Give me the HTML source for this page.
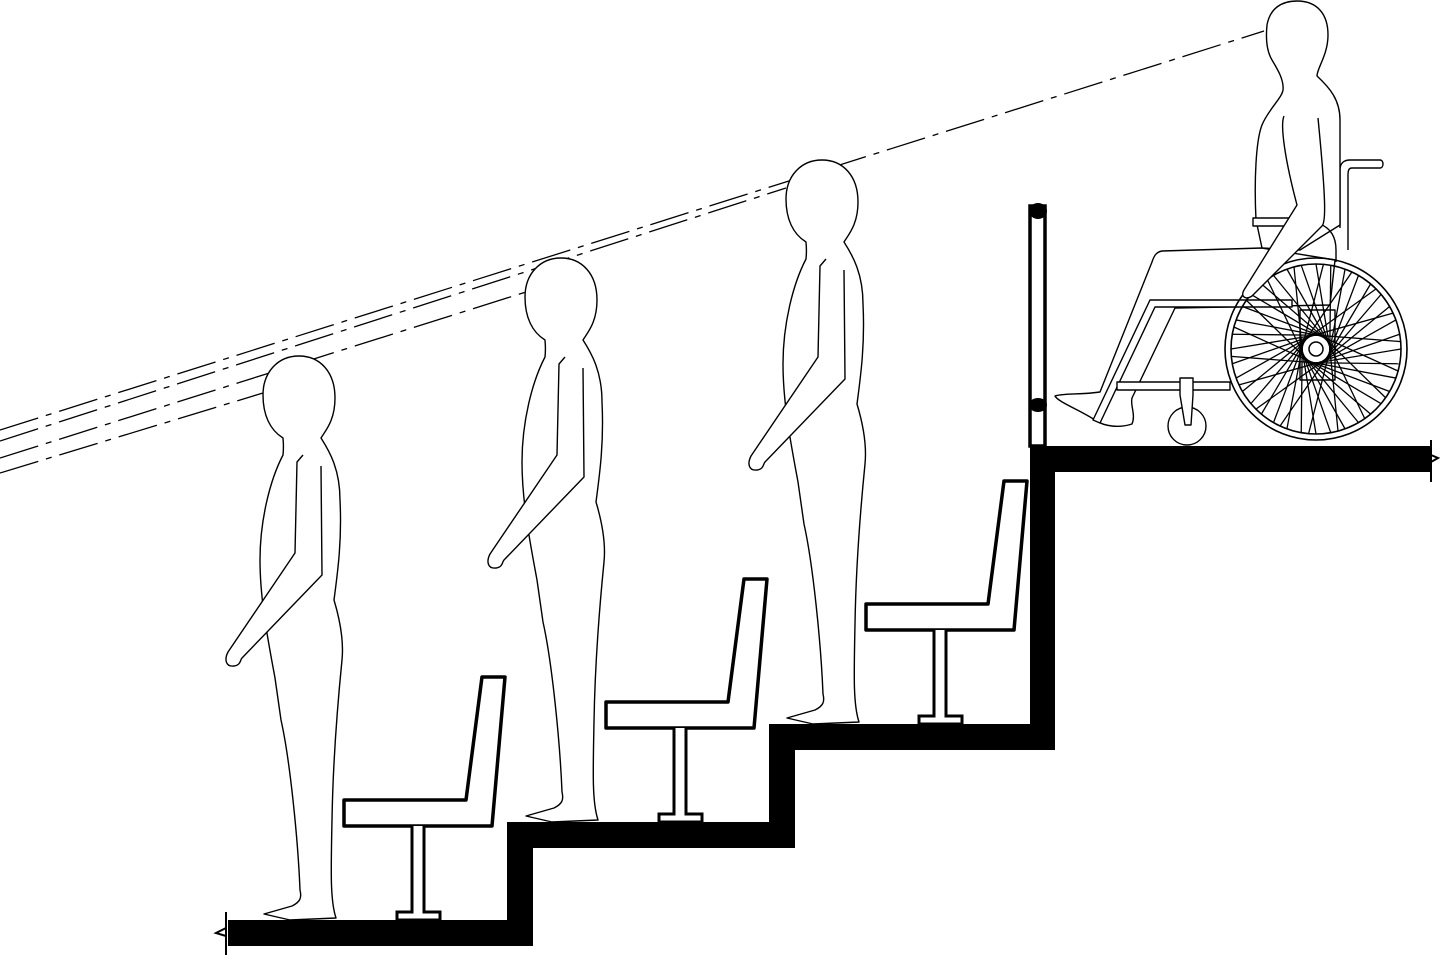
<!DOCTYPE html>
<html><head><meta charset="utf-8"><style>
html,body{margin:0;padding:0;background:#fff;}
svg{display:block}
</style></head><body>
<svg width="1440" height="955" viewBox="0 0 1440 955" xmlns="http://www.w3.org/2000/svg">
<rect width="1440" height="955" fill="#fff"/>
<g stroke="#000" stroke-width="1.3" fill="none" stroke-dasharray="40 8 6 8">
<line x1="0" y1="430" x2="1264" y2="31"/>
<line x1="0" y1="441" x2="786" y2="188"/>
<line x1="0" y1="458" x2="526" y2="292"/>
<line x1="0" y1="473" x2="263" y2="393"/>
</g>
<path d="M228,920 L507,920 L507,822 L769,822 L769,724 L1030,724 L1030,446 L1430,446 L1430,472 L1055,472 L1055,750 L795,750 L795,848 L533,848 L533,946 L228,946 Z" fill="#000"/>
<path d="M226,912 L226,955 M226,928 L216,933 L226,936" stroke="#000" stroke-width="2" fill="none"/>
<path d="M1431,440 L1431,482 M1431,455 L1438,458 L1431,462" stroke="#000" stroke-width="2" fill="none"/>
<defs>
<g id="chair">
<path d="M344,800 L466,800 L482,677 L505,677 L492,826 L344,826 Z" fill="#fff" stroke="#000" stroke-width="3.5" stroke-linejoin="round"/>
<path d="M412,826 L412,912 L397,912 L397,920 L440,920 L440,912 L424,912 L424,826" fill="#fff" stroke="#000" stroke-width="3"/>
</g>
<g id="person" fill="#fff" stroke="#000" stroke-width="1.4" stroke-linejoin="round">
<path d="M299,356 C320,356 335,372 335,398 C335,420 326,430 321,438 C330,452 340,470 340,500 C342,540 338,570 334,600 C340,620 344,640 342,660 C338,700 333,760 332,820 C331,870 330,900 336,918 L290,920 L264,914 L292,906 C300,902 302,898 300,890 C298,840 290,760 281,720 L275,678 C268,640 260,600 260,560 C260,520 270,480 283,455 C284,445 283,440 283,438 C270,430 263,415 263,395 C263,372 278,356 299,356 Z"/>
<path d="M303,455 L297,462 L295,553 L228,652 C224,660 226,667 234,666 C241,665 240,660 242,658 L322,575 L321,466"/>
</g>
</defs>
<use href="#chair"/>
<use href="#chair" transform="translate(262,-98)"/>
<use href="#chair" transform="translate(522,-196)"/>
<use href="#person"/>
<use href="#person" transform="translate(262,-98)"/>
<use href="#person" transform="translate(523,-196)"/>
<rect x="1030" y="206" width="15" height="240" fill="#fff" stroke="#000" stroke-width="3.5"/>
<ellipse cx="1038" cy="211" rx="9" ry="8" fill="#000"/>
<ellipse cx="1038" cy="405" rx="9" ry="7" fill="#000"/>
<g fill="#fff" stroke="#000" stroke-width="1.4" stroke-linejoin="round">
<path d="M1340,228 L1340,170 C1340,163 1344,160 1350,160 L1380,160 C1384,160 1384,168 1380,168 L1352,168 C1348,168 1348,172 1348,176 L1348,250"/>
<path d="M1297,1 C1318,1 1328,15 1328,35 C1328,55 1317,68 1317,76 C1330,88 1340,100 1340,120 L1340,225 L1300,250 L1262,248 L1256,220 C1254,180 1256,140 1262,125 C1268,110 1282,98 1283,90 C1284,80 1278,70 1272,60 C1266,50 1266,35 1267,25 C1270,8 1282,1 1297,1 Z"/>
<rect x="1253" y="218" width="40" height="8"/>
<path d="M1262,248 L1162,251 C1156,252 1154,256 1152,262 L1100,392 C1080,395 1065,393 1055,396 C1058,402 1080,410 1095,420 C1105,427 1120,428 1132,424 C1136,415 1130,405 1132,398 L1175,308 L1330,305 L1335,260 Z"/>
<path d="M1150,300 L1292,300 L1292,307 L1155,307 L1100,423 L1093,420 Z"/>
<path d="M1117,382 L1230,382 L1230,390 L1117,390 Z"/>
<path d="M1300,310 L1335,310 L1335,380 L1300,380 Z" fill="none"/>
<circle cx="1187" cy="426" r="19"/>
<path d="M1180,378 L1193,378 L1193,395 L1191,425 L1185,425 L1180,395 Z"/>
</g>
<g transform="translate(1316,349)" stroke="#000" fill="none">
<circle r="91" stroke-width="1.6"/>
<circle r="85" stroke-width="1.6"/>
<g stroke-width="1.3">
<line x1="14" y1="0" x2="0" y2="-85" transform="rotate(0)"/>
<line x1="14" y1="0" x2="0" y2="-85" transform="rotate(10)"/>
<line x1="14" y1="0" x2="0" y2="-85" transform="rotate(20)"/>
<line x1="14" y1="0" x2="0" y2="-85" transform="rotate(30)"/>
<line x1="14" y1="0" x2="0" y2="-85" transform="rotate(40)"/>
<line x1="14" y1="0" x2="0" y2="-85" transform="rotate(50)"/>
<line x1="14" y1="0" x2="0" y2="-85" transform="rotate(60)"/>
<line x1="14" y1="0" x2="0" y2="-85" transform="rotate(70)"/>
<line x1="14" y1="0" x2="0" y2="-85" transform="rotate(80)"/>
<line x1="14" y1="0" x2="0" y2="-85" transform="rotate(90)"/>
<line x1="14" y1="0" x2="0" y2="-85" transform="rotate(100)"/>
<line x1="14" y1="0" x2="0" y2="-85" transform="rotate(110)"/>
<line x1="14" y1="0" x2="0" y2="-85" transform="rotate(120)"/>
<line x1="14" y1="0" x2="0" y2="-85" transform="rotate(130)"/>
<line x1="14" y1="0" x2="0" y2="-85" transform="rotate(140)"/>
<line x1="14" y1="0" x2="0" y2="-85" transform="rotate(150)"/>
<line x1="14" y1="0" x2="0" y2="-85" transform="rotate(160)"/>
<line x1="14" y1="0" x2="0" y2="-85" transform="rotate(170)"/>
<line x1="14" y1="0" x2="0" y2="-85" transform="rotate(180)"/>
<line x1="14" y1="0" x2="0" y2="-85" transform="rotate(190)"/>
<line x1="14" y1="0" x2="0" y2="-85" transform="rotate(200)"/>
<line x1="14" y1="0" x2="0" y2="-85" transform="rotate(210)"/>
<line x1="14" y1="0" x2="0" y2="-85" transform="rotate(220)"/>
<line x1="14" y1="0" x2="0" y2="-85" transform="rotate(230)"/>
<line x1="14" y1="0" x2="0" y2="-85" transform="rotate(240)"/>
<line x1="14" y1="0" x2="0" y2="-85" transform="rotate(250)"/>
<line x1="14" y1="0" x2="0" y2="-85" transform="rotate(260)"/>
<line x1="14" y1="0" x2="0" y2="-85" transform="rotate(270)"/>
<line x1="14" y1="0" x2="0" y2="-85" transform="rotate(280)"/>
<line x1="14" y1="0" x2="0" y2="-85" transform="rotate(290)"/>
<line x1="14" y1="0" x2="0" y2="-85" transform="rotate(300)"/>
<line x1="14" y1="0" x2="0" y2="-85" transform="rotate(310)"/>
<line x1="14" y1="0" x2="0" y2="-85" transform="rotate(320)"/>
<line x1="14" y1="0" x2="0" y2="-85" transform="rotate(330)"/>
<line x1="14" y1="0" x2="0" y2="-85" transform="rotate(340)"/>
<line x1="14" y1="0" x2="0" y2="-85" transform="rotate(350)"/>
<line x1="-14" y1="0" x2="0" y2="-85" transform="rotate(5)"/>
<line x1="-14" y1="0" x2="0" y2="-85" transform="rotate(25)"/>
<line x1="-14" y1="0" x2="0" y2="-85" transform="rotate(45)"/>
<line x1="-14" y1="0" x2="0" y2="-85" transform="rotate(65)"/>
<line x1="-14" y1="0" x2="0" y2="-85" transform="rotate(85)"/>
<line x1="-14" y1="0" x2="0" y2="-85" transform="rotate(105)"/>
<line x1="-14" y1="0" x2="0" y2="-85" transform="rotate(125)"/>
<line x1="-14" y1="0" x2="0" y2="-85" transform="rotate(145)"/>
<line x1="-14" y1="0" x2="0" y2="-85" transform="rotate(165)"/>
<line x1="-14" y1="0" x2="0" y2="-85" transform="rotate(185)"/>
<line x1="-14" y1="0" x2="0" y2="-85" transform="rotate(205)"/>
<line x1="-14" y1="0" x2="0" y2="-85" transform="rotate(225)"/>
<line x1="-14" y1="0" x2="0" y2="-85" transform="rotate(245)"/>
<line x1="-14" y1="0" x2="0" y2="-85" transform="rotate(265)"/>
<line x1="-14" y1="0" x2="0" y2="-85" transform="rotate(285)"/>
<line x1="-14" y1="0" x2="0" y2="-85" transform="rotate(305)"/>
<line x1="-14" y1="0" x2="0" y2="-85" transform="rotate(325)"/>
<line x1="-14" y1="0" x2="0" y2="-85" transform="rotate(345)"/>
</g>
<circle r="7" fill="#fff" stroke-width="1.5"/>
</g>
<!-- seated person's arm over wheel -->
<g fill="#fff" stroke="#000" stroke-width="1.4" stroke-linejoin="round">
<path d="M1320,224 C1330,228 1336,236 1336,250 L1336,262" fill="none"/>
<path d="M1284,116 C1280,125 1285,160 1297,205 L1244,290 C1240,297 1246,300 1252,296 L1322,226 C1326,222 1326,200 1318,118"/>
</g>
</svg>
</body></html>
